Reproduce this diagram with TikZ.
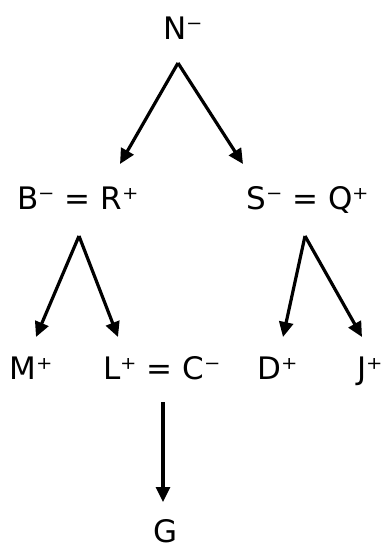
\documentclass[tikz,border=0pt]{standalone}
\usepackage{fontspec}
\setmainfont{DejaVu Sans}
\usetikzlibrary{arrows.meta}
\tikzset{
  ion/.style={anchor=base,inner sep=0pt,font=\fontsize{31}{36}\selectfont},
  link/.style={line width=3.2pt,-{Triangle[length=15pt,width=14pt]}}
}
\begin{document}
\begin{tikzpicture}[x=1pt,y=-1pt]
\useasboundingbox (0,0) rectangle (389,550);
\node[ion] (N) at (183,39) {N⁻};
\node[ion] (BR) at (78,209) {B⁻ = R⁺};
\node[ion] (SQ) at (308,209) {S⁻ = Q⁺};
\node[ion] (M) at (31,379) {M⁺};
\node[ion] (LC) at (162,379) {L⁺ = C⁻};
\node[ion] (D) at (278,379) {D⁺};
\node[ion] (J) at (370,379) {J⁺};
\node[ion] (G) at (166,542) {G};
% forks below the parents
\coordinate (Nfork) at (178,63);
\coordinate (BRfork) at (79,236);
\coordinate (SQfork) at (305,236);
\coordinate (LCfork) at (163,402);
% arrow ends above the children
\coordinate (BRin) at (120,164);
\coordinate (SQin) at (243,164);
\coordinate (Min) at (36,337);
\coordinate (LCin) at (118,337);
\coordinate (Din) at (283,337);
\coordinate (Jin) at (362,337);
\coordinate (Gin) at (163,502);
\draw[link] (Nfork) -- (BRin);
\draw[link] (Nfork) -- (SQin);
\draw[link] (BRfork) -- (Min);
\draw[link] (BRfork) -- (LCin);
\draw[link] (SQfork) -- (Din);
\draw[link] (SQfork) -- (Jin);
\draw[link] (LCfork) -- (Gin);
\end{tikzpicture}
\end{document}
